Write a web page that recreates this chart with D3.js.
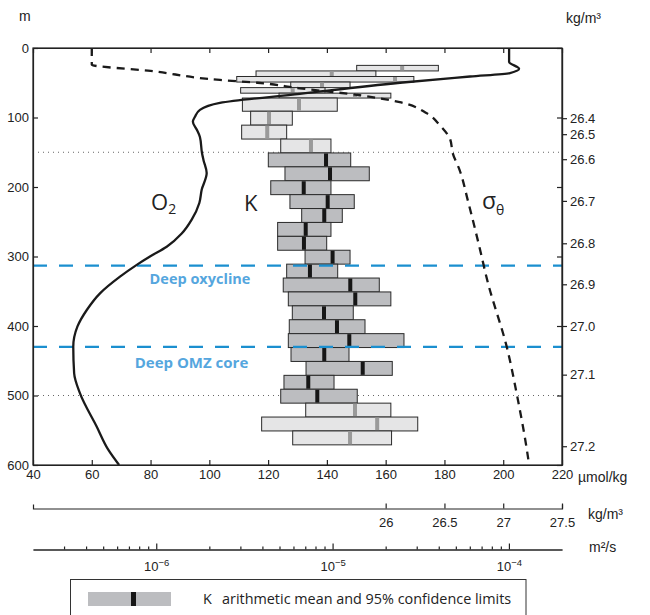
<!DOCTYPE html>
<html>
<head>
<meta charset="utf-8">
<script src="https://cdn.jsdelivr.net/npm/d3@7"></script>
<style>
  body { margin: 0; background: #fff; }
  text { font-family: "Liberation Sans", Arial, sans-serif; fill: #222; }
  .label { font-family: "Open Sans", "Noto Sans", sans-serif; }
</style>
</head>
<body>
<svg id="chart" width="650" height="615"></svg>
<script>

// ---- data ----

// depth axis (m) and O2 axis (umol/kg)
var depthTicks = [0, 100, 200, 300, 400, 500, 600];
var o2Ticks = [40, 60, 80, 100, 120, 140, 160, 180, 200, 220];

// O2 profile
var o2Depth = [0, 20, 30, 36, 41, 50, 66, 79, 89, 99, 106, 118, 128, 151, 161, 180, 204, 223,
               247, 267, 286, 300, 312, 329, 353, 377, 401, 430, 468, 497, 545, 578, 600];
var o2Value = [202, 202, 205.4, 202.3, 188.7, 164.9, 130.8, 103.6, 96.8, 95.1, 94.4, 95.8, 96.8,
               97.5, 98, 99.1, 97.4, 96.6, 94, 90.6, 85.5, 79.8, 75.3, 69.6, 62.8, 58.3, 55.1,
               53.7, 54, 56, 61.7, 65.6, 69.3];

// potential density profile (sigma-theta, kg/m3)
var sigmaDepth = [0, 24, 33, 46, 50, 58, 68, 78, 94, 111, 132, 151, 176, 220, 281, 338, 430, 502, 588, 600];
var sigmaValue = [23.5, 23.5, 24.0, 24.59, 24.91, 25.27, 25.78, 26.12, 26.35, 26.46, 26.55, 26.57,
                  26.63, 26.70, 26.79, 26.87, 27.03, 27.12, 27.21, 27.22];

// right hand density labels and the depth where each sits
var sigmaTickLabels = ["26.4", "26.5", "26.6", "26.7", "26.8", "26.9", "27.0", "27.1", "27.2"];
var sigmaTickDepths = [101, 124, 160, 220, 281, 340, 400, 470, 573];

// second and third bottom axes
var densityTicks = [26, 26.5, 27, 27.5];
var kMajorTicks = [1e-6, 1e-5, 1e-4];

// K (m2/s): depth bins, arithmetic mean and 95% confidence limits
var kEdges = [25, 33, 41, 49, 57, 65, 72, 91, 111, 131, 151, 171, 191, 211, 231, 251, 271, 291,
              311, 331, 351, 371, 391, 411, 431, 451, 471, 491, 511, 531, 551, 571];
var kLow = [1.37e-5, 3.68e-6, 2.86e-6, 5.79e-6, 3.01e-6, 4.97e-6, 3.08e-6, 3.43e-6, 3.05e-6, 5.08e-6,
            4.32e-6, 5.37e-6, 4.46e-6, 5.73e-6, 6.68e-6, 4.88e-6, 4.88e-6, 6.98e-6, 5.49e-6, 5.25e-6,
            5.61e-6, 5.91e-6, 5.68e-6, 5.61e-6, 5.81e-6, 7.07e-6, 5.30e-6, 5.08e-6,
            7.04e-6, 3.96e-6, 5.94e-6];
var kMean = [2.48e-5, 9.89e-6, 2.26e-5, 8.71e-6, 5.94e-6, 1.34e-5, 6.45e-6, 4.36e-6, 4.26e-6, 7.54e-6,
             9.18e-6, 9.67e-6, 6.86e-6, 9.38e-6, 8.97e-6, 7.04e-6, 6.88e-6, 1.0e-5, 7.44e-6, 1.26e-5,
             1.345e-5, 8.94e-6, 1.059e-5, 1.244e-5, 8.97e-6, 1.482e-5, 7.28e-6, 8.19e-6,
             1.34e-5, 1.79e-5, 1.256e-5];
var kHigh = [3.98e-5, 1.76e-5, 2.89e-5, 1.256e-5, 9.06e-6, 2.14e-5, 1.063e-5, 5.91e-6, 5.49e-6, 9.79e-6,
             1.267e-5, 1.615e-5, 9.79e-6, 1.327e-5, 1.135e-5, 9.79e-6, 9.26e-6, 1.256e-5, 1.069e-5, 1.84e-5,
             2.14e-5, 1.31e-5, 1.527e-5, 2.54e-5, 1.239e-5, 2.18e-5, 1.019e-5, 1.38e-5,
             2.14e-5, 3.04e-5, 2.16e-5];
// bins inside this depth range are drawn dark
var coreRange = [151, 511];

// horizontal reference lines (m)
var oxyclineDepth = 313;
var omzDepth = 430;
var dottedDepths = [150, 500];

// ---- layout ----
var svg = d3.select("#chart");
var plotL = 33, plotR = 562, plotT = 48, plotB = 465;

var y = d3.scaleLinear().domain([0, 600]).range([plotT, plotB]);
var xO2 = d3.scaleLinear().domain([40, 220]).range([plotL, plotR]);
var xSig = d3.scaleLinear().domain([23, 27.5]).range([plotL, plotR]);
var xK = d3.scaleLog().domain([2e-7, 2e-4]).range([plotL, plotR]);

function styleAxis(g, size) {
    g.attr("font-family", null).attr("font-size", null);
    g.selectAll("path, line").attr("stroke", "#222").attr("stroke-width", 1.2);
    g.selectAll("text").style("font-size", (size || 13) + "px").attr("fill", "#222");
}

// dotted lines go behind the bars
svg.append("g").selectAll("line").data(dottedDepths).enter().append("line")
    .attr("x1", plotL).attr("x2", plotR)
    .attr("y1", function (d) { return y(d); }).attr("y2", function (d) { return y(d); })
    .attr("stroke", "#666").attr("stroke-width", 1).attr("stroke-dasharray", "1,4");

// K bars
var bins = kMean.map(function (m, i) {
    return { top: kEdges[i], bottom: kEdges[i + 1], lo: kLow[i], mean: m, hi: kHigh[i],
             core: kEdges[i] >= coreRange[0] && kEdges[i] < coreRange[1] };
});

var bars = svg.append("g").attr("class", "bars")
    .selectAll("g").data(bins).enter().append("g");

bars.append("rect")
    .attr("x", function (d) { return xK(d.lo); })
    .attr("y", function (d) { return y(d.top); })
    .attr("width", function (d) { return xK(d.hi) - xK(d.lo); })
    .attr("height", function (d) { return y(d.bottom) - y(d.top); })
    .attr("fill", function (d) { return d.core ? "#bcbdc0" : "#e5e5e6"; })
    .attr("stroke", "#2a2a2a").attr("stroke-width", 1);

bars.append("rect")
    .attr("x", function (d) { return xK(d.mean) - 2; })
    .attr("y", function (d) { return y(d.top) + 0.5; })
    .attr("width", 4)
    .attr("height", function (d) { return y(d.bottom) - y(d.top) - 1; })
    .attr("fill", function (d) { return d.core ? "#161616" : "#9a9a9a"; });

// blue dashed boundaries
svg.append("g").selectAll("line").data([oxyclineDepth, omzDepth]).enter().append("line")
    .attr("x1", plotL).attr("x2", plotR)
    .attr("y1", function (d) { return y(d); }).attr("y2", function (d) { return y(d); })
    .attr("stroke", "#1b8fcf").attr("stroke-width", 2.2).attr("stroke-dasharray", "14,12");

// O2 profile
var o2Line = d3.line()
    .x(function (d) { return xO2(d[1]); })
    .y(function (d) { return y(d[0]); })
    .curve(d3.curveMonotoneY);

svg.append("path")
    .datum(o2Depth.map(function (d, i) { return [d, o2Value[i]]; }))
    .attr("d", o2Line)
    .attr("fill", "none").attr("stroke", "#1a1a1a").attr("stroke-width", 2.3);

// sigma-theta profile
var sigLine = d3.line()
    .x(function (d) { return xSig(d[1]); })
    .y(function (d) { return y(d[0]); })
    .curve(d3.curveMonotoneY);

svg.append("path")
    .datum(sigmaDepth.map(function (d, i) { return [d, sigmaValue[i]]; }))
    .attr("d", sigLine)
    .attr("fill", "none").attr("stroke", "#1a1a1a").attr("stroke-width", 2.3)
    .attr("stroke-dasharray", "8,6");

// ---- axes ----
// frame
svg.append("rect")
    .attr("x", plotL).attr("y", plotT).attr("width", plotR - plotL).attr("height", plotB - plotT)
    .attr("fill", "none").attr("stroke", "#222").attr("stroke-width", 1.2);

svg.append("g").attr("transform", "translate(" + plotL + ",0)")
    .call(d3.axisLeft(y).tickValues(depthTicks).tickSizeInner(-5).tickSizeOuter(0).tickPadding(4))
    .call(styleAxis);

svg.append("g").attr("transform", "translate(0," + plotT + ")")
    .call(d3.axisTop(xO2).tickValues(o2Ticks).tickSizeInner(-5).tickSizeOuter(0).tickFormat(""))
    .call(styleAxis);

svg.append("g").attr("transform", "translate(0," + plotB + ")")
    .call(d3.axisBottom(xO2).tickValues(o2Ticks).tickSizeInner(-5).tickSizeOuter(0).tickPadding(5))
    .call(styleAxis);

svg.append("g").attr("transform", "translate(" + plotR + ",0)")
    .call(d3.axisRight(y).tickValues(depthTicks).tickSizeInner(-5).tickSizeOuter(0).tickFormat(""))
    .call(styleAxis);

svg.append("g").attr("transform", "translate(" + plotR + ",0)")
    .call(d3.axisRight(y).tickValues(sigmaTickDepths).tickSizeInner(5).tickSizeOuter(0).tickPadding(3)
        .tickFormat(function (d, i) { return sigmaTickLabels[i]; }))
    .call(styleAxis);

// density axis
svg.append("g").attr("transform", "translate(0,508.5)")
    .call(d3.axisBottom(xSig).tickValues(densityTicks).tickSizeInner(-5).tickSizeOuter(-4).tickPadding(9)
        .tickFormat(d3.format("")))
    .call(styleAxis);

// K axis (log): minor ticks then major ticks with powers of ten
var kMinor = [];
[1e-7, 1e-6, 1e-5, 1e-4].forEach(function (dec) {
    for (var m = 2; m <= 9; m++) {
        var v = m * dec;
        if (v > 2e-7 && v < 2e-4) kMinor.push(v);
    }
});

svg.append("g").attr("transform", "translate(0,549.5)")
    .call(d3.axisBottom(xK).tickValues(kMinor).tickSizeInner(-3).tickSizeOuter(0).tickFormat(""))
    .call(styleAxis);

var kAxis = svg.append("g").attr("transform", "translate(0,549.5)")
    .call(d3.axisBottom(xK).tickValues(kMajorTicks).tickSizeInner(-6).tickSizeOuter(0).tickPadding(12)
        .tickFormat(""))
    .call(styleAxis);

kAxis.selectAll(".tick text").each(function (d) {
    var t = d3.select(this).text(null);
    t.append("tspan").text("10");
    t.append("tspan").attr("dy", "-0.55em").style("font-size", "9.5px")
        .text("\u2212" + Math.round(-Math.log10(d)));
});

// ---- labels ----
svg.append("text").attr("x", 19).attr("y", 21).style("font-size", "14px").text("m");
svg.append("text").attr("x", 566).attr("y", 23).style("font-size", "14px").text("kg/m\u00b3");
svg.append("text").attr("x", 578).attr("y", 482).style("font-size", "14px").text("\u00b5mol/kg");
svg.append("text").attr("x", 588).attr("y", 519).style("font-size", "14px").text("kg/m\u00b3");
svg.append("text").attr("x", 589).attr("y", 552).style("font-size", "14px").text("m\u00b2/s");

var o2Lab = svg.append("text").attr("class", "label").attr("x", 151).attr("y", 210)
    .style("font-size", "22px");
o2Lab.append("tspan").text("O");
o2Lab.append("tspan").attr("dy", "4").style("font-size", "14px").text("2");

svg.append("text").attr("class", "label").attr("x", 244).attr("y", 211)
    .style("font-size", "22px").text("K");

var sigLab = svg.append("text").attr("class", "label").attr("x", 482).attr("y", 209)
    .style("font-size", "23px");
sigLab.append("tspan").text("\u03c3");
sigLab.append("tspan").attr("dy", "6").style("font-size", "14px").text("\u03b8");

svg.append("text").attr("class", "label").attr("x", 200).attr("y", 284)
    .attr("text-anchor", "middle").style("font-size", "14.5px").style("font-weight", "bold")
    .style("fill", "#55a6de").text("Deep oxycline");

svg.append("text").attr("class", "label").attr("x", 191.5).attr("y", 367.5)
    .attr("text-anchor", "middle").style("font-size", "15px").style("font-weight", "bold")
    .style("fill", "#55a6de").text("Deep OMZ core");

// ---- legend ----
var legend = svg.append("g");
legend.append("rect").attr("x", 70.5).attr("y", 579.5).attr("width", 455.5).attr("height", 50)
    .attr("fill", "#fff").attr("stroke", "#333").attr("stroke-width", 1);
legend.append("rect").attr("x", 88).attr("y", 592).attr("width", 83).attr("height", 14)
    .attr("fill", "#bcbdc0");
legend.append("rect").attr("x", 131).attr("y", 592).attr("width", 5).attr("height", 14)
    .attr("fill", "#161616");
legend.append("text").attr("class", "label").attr("x", 203).attr("y", 604)
    .style("font-size", "14.4px").text("K");
legend.append("text").attr("class", "label").attr("x", 222).attr("y", 604)
    .style("font-size", "14.4px").text("arithmetic mean and 95% confidence limits");

</script>
</body>
</html>
